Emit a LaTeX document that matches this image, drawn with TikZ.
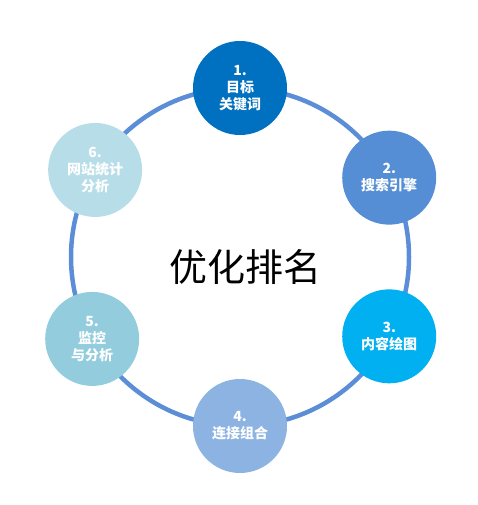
\documentclass[tikz,border=0pt]{standalone}
\usepackage{fontspec}
\usetikzlibrary{calc}
\newfontfamily\cjk{Noto Sans CJK SC}
\definecolor{ringc}{HTML}{5B8ED6}
\definecolor{cA}{HTML}{0070C0}
\definecolor{cB}{HTML}{558ED5}
\definecolor{cC}{HTML}{00B0F0}
\definecolor{cD}{HTML}{8DB3E2}
\definecolor{cE}{HTML}{93CDDD}
\definecolor{cF}{HTML}{B7DEE8}
\tikzset{
  stepnode/.style={circle, minimum size=94pt, inner sep=0pt, text=white, align=center,
    font=\cjk\bfseries\fontsize{14}{17}\selectfont},
}
\begin{document}
\begin{tikzpicture}[x=1pt,y=1pt]
\useasboundingbox (0,0) rectangle (478,505);
\coordinate (c) at (240,248);
\node (ring) [circle, draw=ringc, line width=4.5pt, minimum size=338pt, inner sep=0pt] at (c) {};
\node (title) at (245,238) {\cjk\fontsize{38}{40}\selectfont 优化排名};
\node (n1) [stepnode, fill=cA] at ($(c)+(90:169)$) {1.\\目标\\关键词};
\node (n2) [stepnode, fill=cB] at ($(c)+(28:169)$) {2.\\搜索引擎};
\node (n3) [stepnode, fill=cC] at ($(c)+(-28:169)$) {3.\\内容绘图};
\node (n4) [stepnode, fill=cD] at ($(c)+(-90:169)$) {4.\\连接组合};
\node (n5) [stepnode, fill=cE] at ($(c)+(209:169)$) {5.\\监控\\与分析};
\node (n6) [stepnode, fill=cF] at ($(c)+(149:169)$) {6.\\网站统计\\分析};
\end{tikzpicture}
\end{document}
